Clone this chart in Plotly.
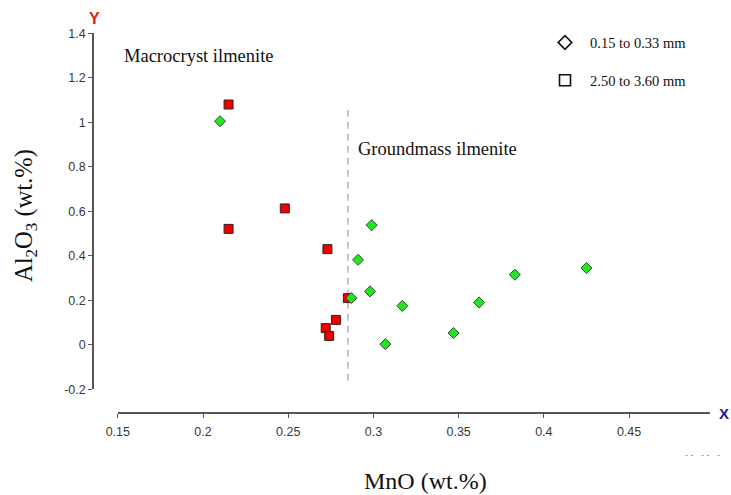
import plotly.graph_objects as go

# ---- data ----
small_x = [0.210, 0.299, 0.291, 0.298, 0.287, 0.317, 0.307, 0.347, 0.362, 0.383, 0.425]
small_y = [1.005, 0.538, 0.382, 0.240, 0.210, 0.175, 0.003, 0.053, 0.190, 0.315, 0.345]
large_x = [0.215, 0.248, 0.215, 0.273, 0.285, 0.278, 0.272, 0.274]
large_y = [1.080, 0.613, 0.521, 0.430, 0.210, 0.112, 0.075, 0.040]
legend_names = ["0.15 to 0.33 mm", "2.50 to 3.60 mm"]
divider_x = [0.285, 0.285]
divider_y = [-0.162, 1.065]
x_ticks = [0.15, 0.2, 0.25, 0.3, 0.35, 0.4, 0.45]
x_tick_text = ["0.15", "0.2", "0.25", "0.3", "0.35", "0.4", "0.45"]
y_ticks = [-0.2, 0, 0.2, 0.4, 0.6, 0.8, 1, 1.2, 1.4]
y_tick_text = ["-0.2", "0", "0.2", "0.4", "0.6", "0.8", "1", "1.2", "1.4"]

W, H = 731, 495
def px(v): return v / W
def py(v): return 1 - v / H

serif = "Liberation Serif, Times New Roman, serif"
sans = "Liberation Sans, Arial, sans-serif"

fig = go.Figure()

# divider line
fig.add_trace(go.Scatter(x=divider_x, y=divider_y, mode="lines",
                         line=dict(color="#b4b4b4", width=1.5, dash="7px,5px"),
                         showlegend=False, hoverinfo="skip"))

# data
fig.add_trace(go.Scatter(x=large_x, y=large_y, mode="markers",
                         marker=dict(symbol="square", size=9, color="#ee0000",
                                     line=dict(color="#3a2020", width=1)),
                         showlegend=False, cliponaxis=False))
fig.add_trace(go.Scatter(x=small_x, y=small_y, mode="markers",
                         marker=dict(symbol="diamond", size=8.5, color="#22e622",
                                     line=dict(color="#3a4a3a", width=1)),
                         showlegend=False, cliponaxis=False))

# legend-only hollow markers
fig.add_trace(go.Scatter(x=[None], y=[None], mode="markers", name=legend_names[0],
                         legendgroup="a",
                         marker=dict(symbol="diamond-open", size=10.5, color="#111",
                                     line=dict(width=1.6))))
fig.add_trace(go.Scatter(x=[None], y=[None], mode="markers", name=legend_names[1],
                         legendgroup="b",
                         marker=dict(symbol="square-open", size=11, color="#111",
                                     line=dict(width=1.6))))

axis_common = dict(showgrid=False, zeroline=False, showline=True, automargin=False,
                   linecolor="#555555", linewidth=1.5, ticks="outside",
                   ticklen=4, tickwidth=1.3, tickcolor="#555555",
                   tickfont=dict(family=sans, size=12.5, color="#383838"))

fig.update_layout(
    width=W, height=H,
    margin=dict(l=0, r=0, t=0, b=0, pad=0, autoexpand=False),
    paper_bgcolor="white", plot_bgcolor="white",
    xaxis=dict(axis_common, range=[0.15, 0.4975],
               domain=[px(117.8), px(710)], anchor="free", position=py(413.3),
               tickvals=x_ticks, ticktext=x_tick_text, ticklabelstandoff=3),
    yaxis=dict(axis_common, range=[-0.2, 1.4],
               domain=[py(389.3), py(33.3)], anchor="free", position=px(93),
               tickvals=y_ticks, ticktext=y_tick_text),
    legend=dict(x=px(540), y=py(26.5), xanchor="left", yanchor="top",
                font=dict(family=serif, size=14.5, color="#111"),
                tracegroupgap=16, itemwidth=40, bgcolor="rgba(0,0,0,0)"),
    showlegend=True,
)

ann = [
    dict(text="Macrocryst ilmenite", x=px(199), y=py(56), size=18.5),
    dict(text="Groundmass ilmenite", x=px(437.5), y=py(149), size=18.5),
    dict(text="MnO (wt.%)", x=px(425), y=py(481), size=24),
]
for a in ann:
    fig.add_annotation(text=a["text"], x=a["x"], y=a["y"], xref="paper", yref="paper",
                       xanchor="center", yanchor="middle", showarrow=False,
                       font=dict(family=serif, size=a["size"], color="#111"))

fig.add_annotation(text="Al<sub>2</sub>O<sub>3</sub> (wt.%)", x=px(26), y=py(216),
                   xref="paper", yref="paper", xanchor="center", yanchor="middle",
                   textangle=-90, showarrow=False,
                   font=dict(family=serif, size=24.5, color="#111"))
fig.add_annotation(text="<b>Y</b>", x=px(94), y=py(18), xref="paper", yref="paper",
                   xanchor="center", yanchor="middle",
                   showarrow=False, font=dict(family=sans, size=16, color="#e02020"))
fig.add_annotation(text="<b>X</b>", x=px(724), y=py(413), xref="paper", yref="paper",
                   xanchor="center", yanchor="middle",
                   showarrow=False, font=dict(family=sans, size=15, color="#202090"))
fig.add_annotation(text="‐ ‐   ‐ ‐   ‐", x=px(702), y=py(455), xref="paper", yref="paper",
                   xanchor="center", yanchor="middle",
                   showarrow=False, font=dict(family=sans, size=9, color="#7a7ad0"))

fig.write_html("out.html")
